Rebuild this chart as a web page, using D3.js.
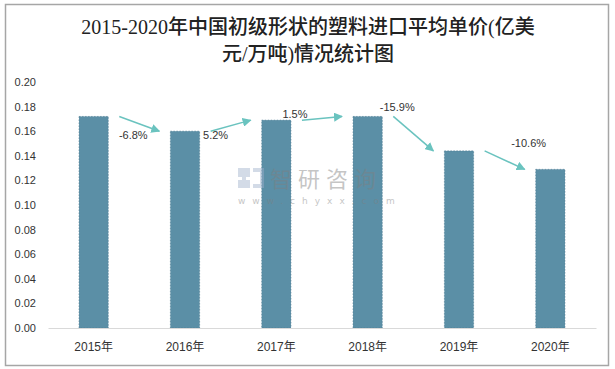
<!DOCTYPE html>
<html><head><meta charset="utf-8">
<script src="https://cdn.jsdelivr.net/npm/d3@7"></script>
<style>body{margin:0;background:#fff}svg{display:block}</style>
</head><body><svg id="c" width="615" height="369"></svg>
<script>
const categories = ["2015年","2016年","2017年","2018年","2019年","2020年"];
const values = [0.172, 0.160, 0.169, 0.172, 0.144, 0.129];
const changeLabels = ["-6.8%","5.2%","1.5%","-15.9%","-10.6%"];
const yTicks = [0,0.02,0.04,0.06,0.08,0.10,0.12,0.14,0.16,0.18,0.20];
const titleLines = ["2015-2020年中国初级形状的塑料进口平均单价(亿美","元/万吨)情况统计图"];
// label offsets relative to arrow start (layout only)
const labelOffsets = [[14,23],[5,8],[-7,-2],[4,-5],[44,-4]];

const svg = d3.select("#c");
svg.append("rect").attr("x",5.5).attr("y",4.5).attr("width",603).attr("height",361)
  .attr("fill","#fff").attr("stroke","#a6a6a6").attr("stroke-width",1.5);

const x = d3.scaleBand().domain(categories).range([48,596]).paddingInner(0.68).paddingOuter(0.34);
const y = d3.scaleLinear().domain([0,0.2]).range([328,82]);

svg.append("g").selectAll("text").data(titleLines).join("text")
  .attr("x",308).attr("y",(d,i)=>34+i*27).attr("text-anchor","middle")
  .attr("font-family","'Liberation Serif','Noto Sans CJK SC',serif")
  .attr("font-size",20).attr("font-weight",500).attr("fill","#222").text(d=>d);

// y axis labels
const yAxis = d3.axisLeft(y).tickValues(yTicks).tickFormat(d3.format(".2f")).tickSize(0).tickPadding(0);
const ga = svg.append("g").attr("transform","translate(36,0)").call(yAxis);
ga.select(".domain").remove();
ga.selectAll("text").attr("font-family","'Liberation Sans','Noto Sans',sans-serif").attr("font-size",11).attr("fill","#333");

// bars
svg.append("g").selectAll("rect").data(values).join("rect")
  .attr("x",(d,i)=>x(categories[i])).attr("y",d=>y(d))
  .attr("width",x.bandwidth()).attr("height",d=>y(0)-y(d))
  .attr("fill","#5b8fa6").attr("stroke","#4a7890").attr("stroke-width",0.6).attr("stroke-dasharray","1.5,1.5");

// watermark (drawn over bars, translucent)
const wm = svg.append("g").attr("opacity",0.45);
wm.append("text").attr("x",270).attr("y",187).attr("font-family","'Noto Sans CJK SC',sans-serif")
  .attr("font-size",22).attr("letter-spacing",6).attr("fill","#7f7f7f").text("智研咨询");
wm.append("text").attr("x",238).attr("y",204).attr("font-family","'DejaVu Sans',sans-serif")
  .attr("font-size",9).attr("letter-spacing",7).attr("fill","#7f7f7f").text("www.chyxx.com");
wm.append("path").attr("d","M238,168 h12 v9 h-8 v3 h8 v8 h-12 v-8 h8 v-3 h-8 Z").attr("fill","#9fb0cc");
wm.append("path").attr("d","M253,168 h11 v20 h-11 v-4 h7 v-12 h-7 Z").attr("fill","#9fb0cc");

// x axis
const xAxis = d3.axisBottom(x).tickSize(0).tickPadding(14);
const gx = svg.append("g").attr("transform","translate(0,328)").call(xAxis);
gx.select(".domain").attr("stroke","#d9d9d9").attr("stroke-width",1);
gx.selectAll("text").attr("font-family","'Liberation Sans','Noto Sans CJK SC',sans-serif").attr("font-size",12).attr("fill","#333");

// arrows
const defs = svg.append("defs");
defs.append("marker").attr("id","ah").attr("viewBox","0 0 10 10").attr("refX",9).attr("refY",5)
  .attr("markerWidth",9).attr("markerHeight",9).attr("markerUnits","userSpaceOnUse").attr("orient","auto")
  .append("path").attr("d","M0,0 L10,5 L0,10 Z").attr("fill","#6ac3bf");
const gap = 11;
const arrows = changeLabels.map((lab,i)=>({
  x1: x(categories[i]) + x.bandwidth() + gap, y1: y(values[i]),
  x2: x(categories[i+1]) - gap, y2: y(values[i+1]), lab, off: labelOffsets[i]}));
const ag = svg.append("g");
ag.selectAll("line").data(arrows).join("line")
  .attr("x1",d=>d.x1).attr("y1",d=>d.y1).attr("x2",d=>d.x2).attr("y2",d=>d.y2)
  .attr("stroke","#6ac3bf").attr("stroke-width",1.5).attr("marker-end","url(#ah)");
ag.selectAll("text").data(arrows).join("text")
  .attr("x",d=>d.x1+d.off[0]).attr("y",d=>d.y1+d.off[1]).attr("text-anchor","middle")
  .attr("font-family","'Liberation Sans','Noto Sans',sans-serif").attr("font-size",11).attr("fill","#333")
  .text(d=>d.lab);
</script></body></html>
